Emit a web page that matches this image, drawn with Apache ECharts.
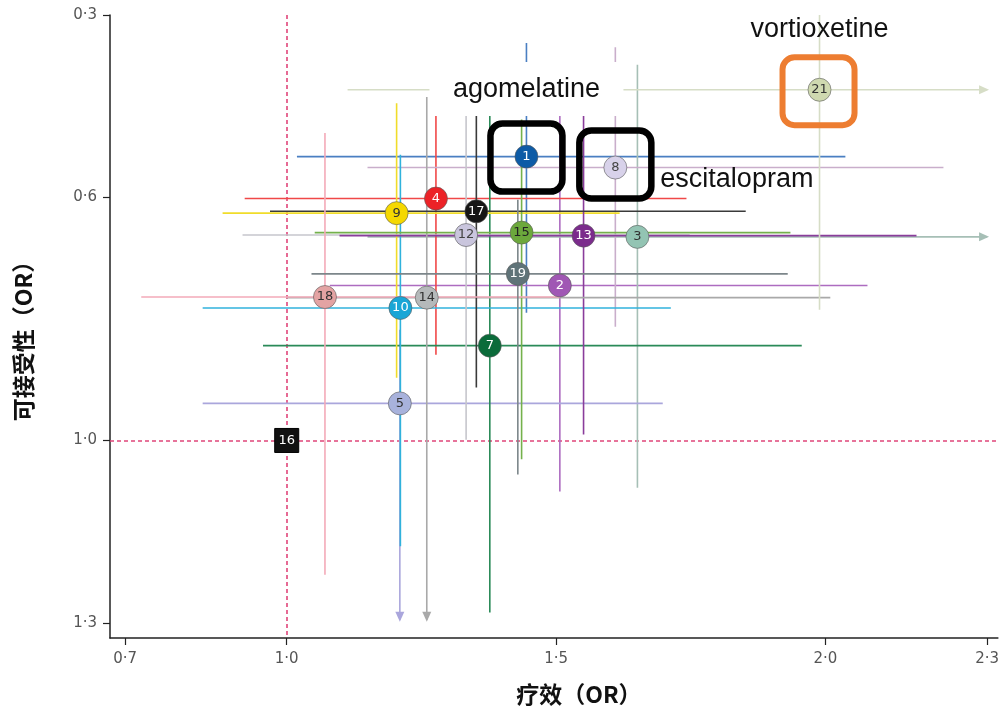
<!DOCTYPE html>
<html>
<head>
<meta charset="utf-8">
<script src="https://cdn.jsdelivr.net/npm/echarts@6/dist/echarts.min.js"></script>
<style>
html,body{margin:0;padding:0;background:#fff;}
#c{width:1002px;height:711px;}
</style>
</head>
<body>
<div id="c"></div>
<script>
// ---- data ----
const drugNumbers = ['1','2','3','4','5','7','8','9','10','12','13','14','15','16','17','18','19','21'];
// efficacy OR (x) and its interval
const effOR   = [1.445,1.507,1.651,1.277,1.210,1.377,1.610,1.204,1.211,1.333,1.551,1.260,1.436,1.000,1.352,1.071,1.429,1.989];
const effLow  = [1.019,1.080,1.150,0.922,0.844,0.956,1.150,0.881,0.844,0.918,1.098,1.000,1.052,null,0.969,0.730,1.046,1.113];
const effHigh = [2.037,2.078,2.500,1.742,1.698,1.956,2.219,1.618,1.713,1.748,2.169,2.009,1.935,null,1.852,1.507,1.930,2.500];
// acceptability OR (y) and its interval
const accOR   = [0.533,0.745,0.665,0.602,0.939,0.844,0.551,0.626,0.782,0.662,0.663,0.765,0.658,1.000,0.623,0.764,0.726,0.423];
const accLow  = [0.346,0.440,0.382,0.466,0.818,0.464,0.353,0.445,0.530,0.445,0.440,0.435,0.472,null,0.466,0.494,0.604,0.300];
const accHigh = [0.790,1.084,1.078,0.859,1.400,1.283,0.813,0.897,1.174,0.999,0.990,1.400,1.031,null,0.913,1.221,1.056,0.785];
const xTickValues = [0.7,1.0,1.5,2.0,2.3];
const yTickValues = [0.3,0.6,1.0,1.3];
const refOR = 1.0;

// ---- styles ----
const dotColors  = ['#0d5ba6','#a057b4','#93c4b3','#ec2227','#a8b2dc','#0b6b3a','#d8d2ea','#f5d800','#1aa6d6','#c9c5dd','#7b2c8c','#b5b9ba','#6ca83c','#111111','#151515','#e3a3a3','#5f7378','#cfd9b0'];
const lineColors = ['#4a7fc2','#ad6cc0','#a6bfb6','#f04848','#aaa6dc','#2a8a58','#c9aecb','#f0dc2a','#30b2dc','#c6c6cc','#8a3d9b','#a9a9a9','#74b14c','#000000','#3a3a3a','#f3aab8','#7c868a','#d6ddc6'];
const textColors = ['#fff','#fff','#333','#fff','#333','#fff','#444','#333','#fff','#444','#fff','#333','#222','#fff','#fff','#333','#fff','#333'];

const X_MIN = 0.672, X_MAX = 2.32, Y_MIN = 0.3, Y_MAX = 1.325;
const X_CLIP = 2.30, Y_CLIP = 1.295;

const ciData = [];
for (let i = 0; i < drugNumbers.length; i++) {
  if (effLow[i] == null) continue;
  ciData.push([effOR[i], accOR[i], effLow[i], effHigh[i], accLow[i], accHigh[i], i]);
}

const dotData = drugNumbers.map((n, i) => ({
  value: [effOR[i], accOR[i]],
  name: n,
  symbol: n === '16' ? 'rect' : 'circle',
  symbolSize: n === '16' ? 24 : 23,
  itemStyle: { color: dotColors[i], opacity: 1, borderColor: n === '16' ? '#000' : 'rgba(90,90,90,0.6)', borderWidth: 1 },
  label: { color: textColors[i] }
}));

const fmt = v => Number(v).toFixed(1).replace('.', '·');

const chart = echarts.init(document.getElementById('c'), null, {renderer: 'canvas'});
const option = {
  animation: false,
  backgroundColor: '#ffffff',
  grid: { left: 110, right: 4, top: 15, bottom: 72, containLabel: false },
  xAxis: {
    type: 'value', min: X_MIN, max: X_MAX,
    name: '疗效（OR）', nameLocation: 'middle', nameGap: 45,
    nameTextStyle: { fontFamily: 'Noto Sans CJK SC', fontWeight: 'bold', fontSize: 23, color: '#111', padding: [0,0,0,50] },
    axisLine: { onZero: false, lineStyle: { color: '#222', width: 1.5 } },
    axisTick: { show: true, length: 7, lineStyle: { color: '#222', width: 1.2 }, customValues: xTickValues },
    axisLabel: { customValues: xTickValues, formatter: fmt, margin: 14, fontSize: 15, color: '#555', fontFamily: 'DejaVu Sans' },
    splitLine: { show: false }
  },
  yAxis: {
    type: 'value', inverse: true, min: Y_MIN, max: Y_MAX,
    name: '可接受性（OR）', nameLocation: 'middle', nameGap: 75,
    nameTextStyle: { fontFamily: 'Noto Sans CJK SC', fontWeight: 'bold', fontSize: 23, color: '#111', padding: [0,18,0,0] },
    axisLine: { onZero: false, lineStyle: { color: '#222', width: 1.5 } },
    axisTick: { show: true, length: 7, lineStyle: { color: '#222', width: 1.2 }, customValues: yTickValues },
    axisLabel: { customValues: yTickValues, formatter: fmt, margin: 13, fontSize: 15, color: '#555', fontFamily: 'DejaVu Sans' },
    splitLine: { show: false }
  },
  series: [
    {
      type: 'custom',
      z: 1,
      data: ciData,
      encode: { x: [0, 2, 3], y: [1, 4, 5] },
      renderItem: function (params, api) {
        const x = api.value(0), y = api.value(1);
        const el = api.value(2), eh = api.value(3), al = api.value(4), ah = api.value(5);
        const idx = api.value(6);
        const color = lineColors[idx];
        const children = [];
        const ehc = Math.min(eh, X_CLIP);
        const a = api.coord([el, y]), b = api.coord([ehc, y]);
        children.push({ type: 'line', shape: { x1: a[0], y1: a[1], x2: b[0], y2: b[1] }, style: { stroke: color, lineWidth: 1.6 } });
        if (eh > X_CLIP) {
          children.push({ type: 'polygon', shape: { points: [[b[0] + 2, b[1]], [b[0] - 8, b[1] - 4.5], [b[0] - 8, b[1] + 4.5]] }, style: { fill: color } });
        }
        const ahc = Math.min(ah, Y_CLIP);
        const c = api.coord([x, al]), d = api.coord([x, ahc]);
        children.push({ type: 'line', shape: { x1: c[0], y1: c[1], x2: d[0], y2: d[1] }, style: { stroke: color, lineWidth: 1.6 } });
        if (ah > Y_CLIP) {
          children.push({ type: 'polygon', shape: { points: [[d[0], d[1] + 2], [d[0] - 4.5, d[1] - 8], [d[0] + 4.5, d[1] - 8]] }, style: { fill: color } });
        }
        return { type: 'group', children: children };
      },
      markLine: {
        silent: true, symbol: 'none', animation: false, z: 1,
        label: { show: false },
        lineStyle: { color: '#e0457a', type: [4, 3], width: 1.6 },
        data: [{ xAxis: refOR }, { yAxis: refOR }]
      }
    },
    {
      type: 'scatter',
      z: 5,
      data: dotData,
      emphasis: { disabled: true },
      label: {
        show: true, position: 'inside', formatter: p => p.name,
        fontFamily: 'DejaVu Sans', fontSize: 13
      }
    }
  ]
};
chart.setOption(option);

const p1 = chart.convertToPixel({ gridIndex: 0 }, [effOR[0], accOR[0]]);
const p8 = chart.convertToPixel({ gridIndex: 0 }, [effOR[6], accOR[6]]);
const p21 = chart.convertToPixel({ gridIndex: 0 }, [effOR[17], accOR[17]]);
const BW = 72, BH = 68;
const boxAround = (p, dx, dy, col, lw) => ({
  type: 'rect', z: 60,
  shape: { x: p[0] - BW / 2 + dx, y: p[1] - BH / 2 + dy, width: BW, height: BH, r: 12 },
  style: { fill: 'none', stroke: col, lineWidth: lw }
});
const annText = (txt, x, y, align) => ({
  type: 'text', z: 61,
  style: { text: txt, x: x, y: y, align: align, verticalAlign: 'middle', font: '27px "Liberation Sans", Arial, sans-serif', fill: '#111' }
});
chart.setOption({
  graphic: [
    { type: 'rect', z: 55, shape: { x: p1[0] - 97, y: 62, width: 194, height: 54 }, style: { fill: '#ffffff' } },
    annText('agomelatine', p1[0], 90, 'center'),
    annText('escitalopram', p8[0] + 45, 180, 'left'),
    annText('vortioxetine', p21[0], 30, 'center'),
    boxAround(p1, 0, 1, '#000000', 6.5),
    boxAround(p8, 0, -3, '#000000', 6.5),
    boxAround(p21, -1, 1.5, '#ed7d31', 6)
  ]
});
</script>
</body>
</html>
